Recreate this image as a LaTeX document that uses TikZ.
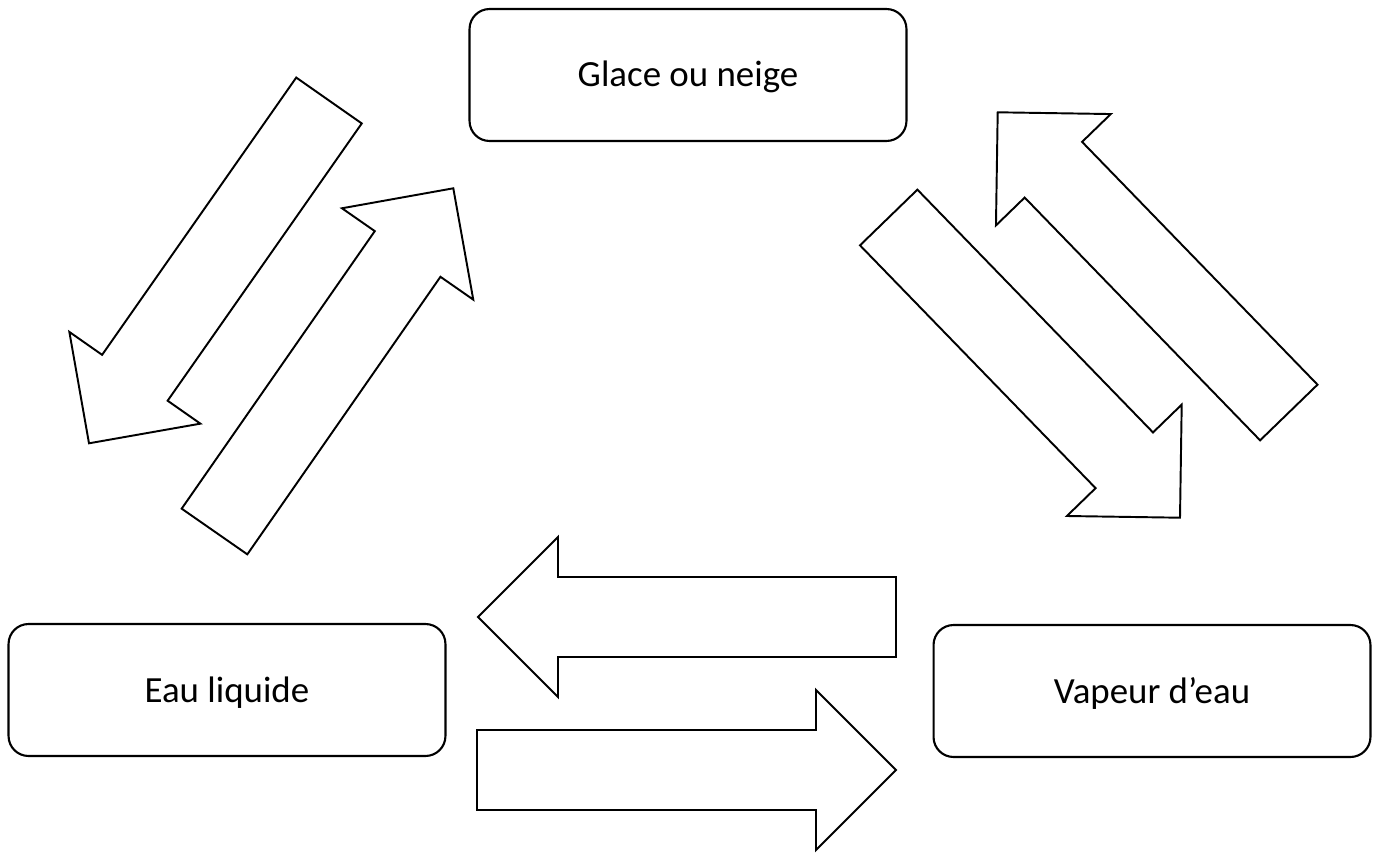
\documentclass[tikz,border=0pt]{standalone}
\usepackage{fontspec}
\setmainfont{Carlito}
\usetikzlibrary{calc,positioning}

\newcommand{\grossefleche}[2]{%
  \coordinate (base) at ($(#2)!1.6cm!(#1)$);
  \draw[fleche] ($(#1)!0.8cm!90:(#2)$) -- ($(base)!0.8cm!90:(#2)$)
    -- ($(base)!1.6cm!90:(#2)$) -- (#2) -- ($(base)!1.6cm!-90:(#2)$)
    -- ($(base)!0.8cm!-90:(#2)$) -- ($(#1)!0.8cm!-90:(#2)$) -- cycle;
}

\begin{document}
\begin{tikzpicture}[
    x=0.02cm, y=-0.02cm,
    etat/.style={draw, line width=1.2pt, rounded corners=0.4cm,
      minimum width=8.74cm, minimum height=2.64cm,
      text height=0.48cm, text depth=0cm,
      font=\fontsize{21}{25}\selectfont},
    fleche/.style={draw, line width=1.1pt, line join=miter}]

    \useasboundingbox (0,0) rectangle (1376,852);

    % etats

    \node[etat] (glace) at (688,75) {Glace ou neige};
    \node[etat] (eau) at (227,690) {Eau liquide};
    \node[etat] (vapeur) at (1152,691) {Vapeur d’eau};

    % extremites des fleches

    \coordinate (fusion-q) at (329,100.5);
    \coordinate (fusion-p) at (89,443.3);
    \coordinate (solid-q) at (214.5,531.5);
    \coordinate (solid-p) at (453.3,188.3);
    \coordinate (sublim-q) at (888.7,217.5);
    \coordinate (sublim-p) at (1180,517.7);
    \coordinate (depot-q) at (1288.8,412.5);
    \coordinate (depot-p) at (997.7,112.3);
    \coordinate (liquef-q) at (896,617);
    \coordinate (liquef-p) at (478,617);
    \coordinate (vapo-q) at (477,770);
    \coordinate (vapo-p) at (896,770);

    % fleches

    \grossefleche{fusion-q}{fusion-p}
    \grossefleche{solid-q}{solid-p}
    \grossefleche{sublim-q}{sublim-p}
    \grossefleche{depot-q}{depot-p}
    \grossefleche{liquef-q}{liquef-p}
    \grossefleche{vapo-q}{vapo-p}
  \end{tikzpicture}
\end{document}
